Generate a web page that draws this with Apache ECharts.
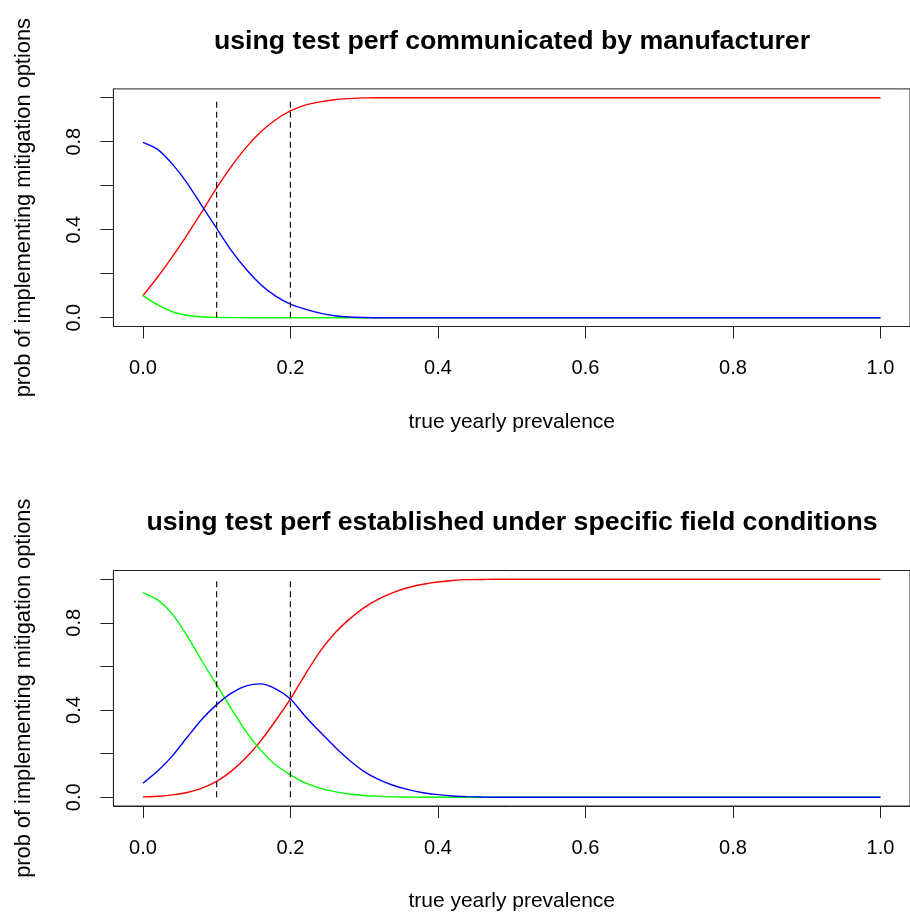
<!DOCTYPE html>
<html>
<head>
<meta charset="utf-8">
<script src="https://cdn.jsdelivr.net/npm/echarts@6/dist/echarts.min.js"></script>
<style>
html,body{margin:0;padding:0;background:#fff;}
#chart{width:910px;height:913px;}
</style>
</head>
<body>
<div id="chart"></div>
<script>
// ---- data ----
const prevalence = [0,0.02,0.04,0.06,0.08,0.10,0.12,0.14,0.16,0.18,0.20,0.22,0.24,0.26,0.28,0.30,0.32,0.34,0.36,0.38,0.40,0.42,0.44,0.46,0.48,0.50,0.6,0.7,0.8,0.9,1.0];

// top panel: test perf communicated by manufacturer
const topRed   = [0.10,0.185,0.278,0.377,0.482,0.59,0.688,0.774,0.845,0.90,0.94,0.966,0.981,0.991,0.996,0.999,1,1,1,1,1,1,1,1,1,1,1,1,1,1,1];
const topGreen = [0.10,0.058,0.027,0.011,0.004,0.0015,0.0005,0,0,0,0,0,0,0,0,0,0,0,0,0,0,0,0,0,0,0,0,0,0,0,0];
const topBlue  = [0.797,0.765,0.698,0.612,0.508,0.406,0.305,0.22,0.15,0.098,0.062,0.039,0.021,0.009,0.003,0.001,0,0,0,0,0,0,0,0,0,0,0,0,0,0,0];

// bottom panel: test perf established under specific field conditions
const botRed   = [0.002,0.005,0.011,0.022,0.042,0.073,0.12,0.182,0.26,0.352,0.451,0.563,0.668,0.752,0.817,0.87,0.91,0.94,0.962,0.977,0.987,0.994,0.998,0.999,1,1,1,1,1,1,1];
const botGreen = [0.939,0.905,0.84,0.74,0.625,0.515,0.405,0.30,0.215,0.148,0.103,0.066,0.042,0.026,0.015,0.008,0.004,0.002,0.001,0,0,0,0,0,0,0,0,0,0,0,0];
const botBlue  = [0.064,0.12,0.19,0.275,0.358,0.425,0.478,0.511,0.52,0.497,0.451,0.372,0.30,0.232,0.17,0.118,0.081,0.054,0.035,0.021,0.012,0.006,0.003,0.001,0,0,0,0,0,0,0];

const thresholds = [0.1, 0.2];
const tickValues = [0,0.2,0.4,0.6,0.8,1.0];
const xLabelValues = [0,0.2,0.4,0.6,0.8,1.0];
const yLabelValues = [0,0.4,0.8];

const titles = ['using test perf communicated by manufacturer',
                'using test perf established under specific field conditions'];
const xName = 'true yearly prevalence';
const yName = 'prob of implementing mitigation options';

// ---- chart ----
const FONT = '"Liberation Sans", Arial, sans-serif';
const pair = (ys) => prevalence.map((x, i) => [x, ys[i]]);

const grids = [
  {left: 113.4, top: 88.9, width: 799.2, height: 237.6},
  {left: 113.4, top: 570.5, width: 799.2, height: 238.4}
];

function xAxis(idx){
  return {
    type:'value', gridIndex: idx, min:-0.04, max:1.04,
    name: xName, nameLocation:'middle', nameGap: 85,
    nameTextStyle:{fontFamily:FONT, fontSize:21, color:'#000'},
    axisLine:{show:true, onZero:false, lineStyle:{color:'#222', width:1}},
    axisTick:{show:true, length:12, lineStyle:{color:'#222', width:1}, customValues: tickValues},
    axisLabel:{show:true, margin:32, fontFamily:FONT, fontSize:20, color:'#000',
      customValues: xLabelValues, formatter: v => Number(v).toFixed(1)},
    splitLine:{show:false}
  };
}
function yAxis(idx){
  return {
    type:'value', gridIndex: idx, min:-0.04, max:1.04,
    name: yName, nameLocation:'middle', nameGap: 78, nameRotate: 90,
    nameTextStyle:{fontFamily:FONT, fontSize:21.8, color:'#000'},
    axisLine:{show:true, onZero:false, lineStyle:{color:'#222', width:1}},
    axisTick:{show:true, length:13, lineStyle:{color:'#222', width:1}, customValues: tickValues},
    axisLabel:{show:true, rotate:90, margin:29, fontFamily:FONT, fontSize:20, color:'#000',
      customValues: yLabelValues, formatter: v => Number(v).toFixed(1)},
    splitLine:{show:false}
  };
}

function curve(idx, ys, color, z){
  return {type:'line', xAxisIndex: idx, yAxisIndex: idx, data: pair(ys),
    showSymbol:false, symbol:'none', smooth:0.25,
    lineStyle:{color: color, width:1.4}, z: z, silent:true, animation:false};
}
function vline(idx, x){
  return {type:'line', xAxisIndex: idx, yAxisIndex: idx, data: [[x,0],[x,1]],
    showSymbol:false, symbol:'none',
    lineStyle:{color:'#111', width:1.2, type:[6,4]}, z: 5, silent:true, animation:false};
}

const series = [];
[[topRed, topGreen, topBlue],[botRed, botGreen, botBlue]].forEach((set, idx) => {
  series.push(curve(idx, set[0], '#FF0000', 2));
  series.push(curve(idx, set[1], '#00FF00', 3));
  series.push(curve(idx, set[2], '#0000FF', 4));
  thresholds.forEach(t => series.push(vline(idx, t)));
});

const chart = echarts.init(document.getElementById('chart'), null, {renderer:'canvas'});
chart.setOption({
  backgroundColor:'#fff',
  animation:false,
  title: [
    {text: titles[0], left: 507, top: 23, textAlign:'center',
     textStyle:{fontFamily:FONT, fontSize:26.7, fontWeight:'bold', color:'#000'}},
    {text: titles[1], left: 507, top: 504, textAlign:'center',
     textStyle:{fontFamily:FONT, fontSize:26.7, fontWeight:'bold', color:'#000'}}
  ],
  grid: grids.map(g => Object.assign({show:true, borderColor:'#222', borderWidth:1, backgroundColor:'transparent'}, g)),
  xAxis: [xAxis(0), xAxis(1)],
  yAxis: [yAxis(0), yAxis(1)],
  series: series
});
</script>
</body>
</html>
